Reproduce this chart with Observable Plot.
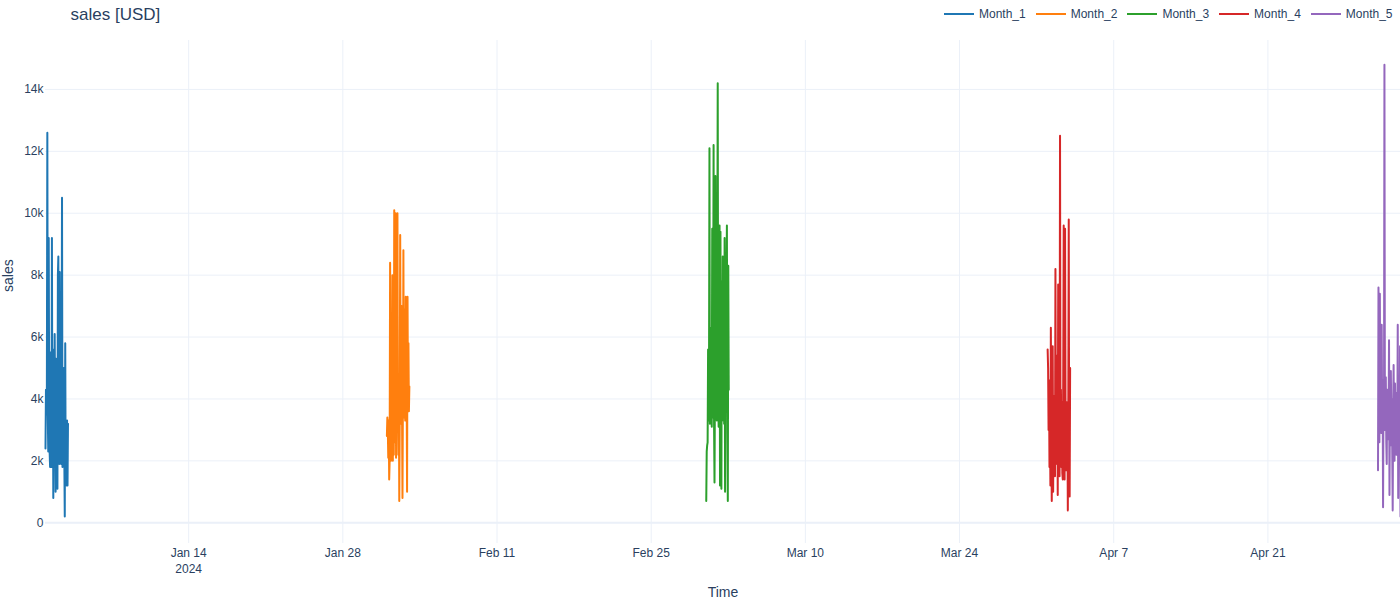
<!DOCTYPE html>
<html><head><meta charset="utf-8">
<script src="https://cdn.jsdelivr.net/npm/d3@7"></script>
<script src="https://cdn.jsdelivr.net/npm/@observablehq/plot@0.6"></script>
<style>
body{margin:0;background:#fff;font-family:"Liberation Sans",Arial,sans-serif;}
#wrap{position:relative;width:1400px;height:600px;}
#legend{position:absolute;left:944px;top:6px;display:flex;align-items:center;height:16px;font-size:12px;color:#2a3f5f;z-index:2;white-space:nowrap;}
.item{display:flex;align-items:center;margin-right:10px;}
.sw{width:30px;height:2px;margin-right:5px;}
svg{display:block;}
</style></head><body><div id="wrap"><div id="legend"></div></div>
<script>
const seriesNames = ["Month_1", "Month_2", "Month_3", "Month_4", "Month_5"];
const seriesStarts = ["2024-01-01", "2024-02-01", "2024-03-01", "2024-04-01", "2024-05-01"];
const colors = ["#1f77b4", "#ff7f0e", "#2ca02c", "#d62728", "#9467bd"];

// hourly sales values
const month1 = [2400, 4300, 3500, 4400, 12600, 3500, 2300, 9200, 4000, 2300, 1800, 5500, 3800, 1800, 9200, 2200, 5600, 800, 3900, 1800, 6100, 3700, 1000, 5300, 1900, 4400, 1100, 8000, 8600, 4300, 1900, 8100, 2500, 6000, 1900, 4300, 10500, 1800, 4500, 1900, 5000, 2100, 200, 5800, 1400, 2900, 1200, 3300, 1200, 3200];
const month2 = [2800, 3400, 3000, 2100, 3300, 1400, 2000, 8400, 4500, 2000, 3900, 2100, 8000, 2000, 4700, 2200, 10100, 3900, 2600, 10000, 2100, 6900, 3300, 10000, 3800, 2200, 4800, 700, 3300, 9300, 4100, 3200, 7000, 3500, 800, 4200, 8800, 3400, 6900, 3600, 3300, 7300, 3500, 4300, 1000, 7300, 3800, 5800, 3600, 4400];
const month3 = [700, 2300, 2500, 2600, 5600, 3300, 4500, 12100, 3200, 6300, 3300, 4800, 3100, 9500, 3400, 5800, 12200, 3200, 1300, 4500, 11200, 3800, 9500, 3300, 7600, 14200, 4200, 3100, 6500, 9600, 1200, 9400, 3500, 1100, 7800, 3300, 8600, 4000, 6200, 3200, 9200, 1000, 6400, 3600, 8000, 9600, 2900, 700, 8300, 4300];
const month4 = [5600, 5000, 3000, 4600, 1800, 3500, 1200, 6300, 2600, 700, 4900, 5700, 1000, 3300, 2200, 4100, 1500, 8200, 2600, 3700, 1900, 5400, 900, 7700, 2100, 3400, 1500, 12500, 2800, 4300, 1800, 3900, 1600, 1400, 4800, 9600, 2400, 1400, 9500, 3500, 1700, 3900, 2600, 3800, 400, 3300, 9800, 1400, 850, 5000];
const month5 = [1700, 7600, 4200, 2600, 7400, 3100, 5300, 2900, 6400, 3500, 4600, 500, 4200, 3000, 14800, 3200, 3000, 4700, 2600, 1900, 4300, 2700, 3500, 3300, 5900, 900, 3900, 2500, 4900, 3200, 4000, 2300, 400, 3800, 5100, 2800, 2000, 4500, 3300, 4200, 2200, 3900, 2900, 6400, 800, 4400, 3100, 2600, 5700, 200];

const xTickDates = ["2024-01-14", "2024-01-28", "2024-02-11", "2024-02-25", "2024-03-10", "2024-03-24", "2024-04-07", "2024-04-21"];
const yTicks = [0, 2000, 4000, 6000, 8000, 10000, 12000, 14000];

const allSeries = [month1, month2, month3, month4, month5];
const data = [];
allSeries.forEach((vals, k) => {
  const start = new Date(seriesStarts[k] + "T00:00:00Z");
  vals.forEach((v, i) => {
    data.push({series: seriesNames[k], time: d3.utcHour.offset(start, i), sales: v});
  });
});
const xTicks = xTickDates.map(s => new Date(s + "T00:00:00Z"));
const xStart = new Date(seriesStarts[0] + "T00:00:00Z");
const xEnd = d3.max(data, d => d.time);

const fmtX = (d, i) => d3.utcFormat("%b %-d")(d) + (i === 0 ? "\n" + d3.utcFormat("%Y")(d) : "");
const fmtY = d => d === 0 ? "0" : (d / 1000) + "k";

const chart = Plot.plot({
  width: 1400,
  height: 600,
  marginTop: 40,
  marginBottom: 57,
  marginLeft: 45,
  marginRight: 0,
  style: {fontFamily: "'Liberation Sans', Arial, sans-serif", fontSize: "12px", color: "#2a3f5f", background: "#fff"},
  x: {type: "utc", domain: [xStart, xEnd], axis: null},
  y: {domain: [-670, 15580], axis: null},
  color: {domain: seriesNames, range: colors},
  marks: [
    Plot.gridX(xTicks, {stroke: "#ebf0f8", strokeOpacity: 1}),
    Plot.gridY(yTicks, {stroke: "#ebf0f8", strokeOpacity: 1}),
    Plot.ruleY([0], {stroke: "#ebf0f8", strokeWidth: 2}),
    Plot.axisY(yTicks, {tickSize: 0, tickPadding: 2, tickFormat: fmtY, fontSize: 12, label: null}),
    Plot.text(xTicks, {x: d => d, frameAnchor: "bottom", lineAnchor: "top", dy: 2, lineHeight: 1.333, fontSize: 12, text: (d, i) => fmtX(d, i)}),
    Plot.text(["Time"], {frameAnchor: "bottom", dy: 49, fontSize: 14, lineAnchor: "middle"}),
    Plot.text(["sales"], {frameAnchor: "left", dx: -37, rotate: -90, fontSize: 14, lineAnchor: "middle"}),
    Plot.text(["sales [USD]"], {frameAnchor: "top-left", textAnchor: "start", dx: 25, dy: -26, fontSize: 17, lineAnchor: "middle"}),
    Plot.line(data, {x: "time", y: "sales", z: "series", stroke: "series", strokeWidth: 2, strokeLinejoin: "round"})
  ]
});
document.getElementById("wrap").appendChild(chart);

const legend = document.getElementById("legend");
seriesNames.forEach((name, k) => {
  const item = document.createElement("div");
  item.className = "item";
  const sw = document.createElement("div");
  sw.className = "sw";
  sw.style.background = colors[k];
  const label = document.createElement("span");
  label.textContent = name;
  item.appendChild(sw);
  item.appendChild(label);
  legend.appendChild(item);
});
</script></body></html>
